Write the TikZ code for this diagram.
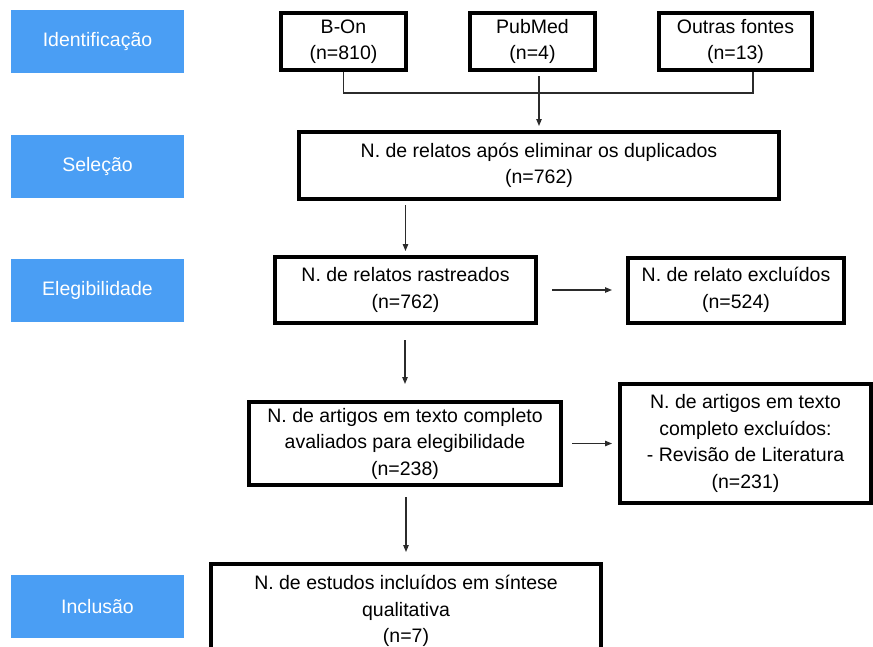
\documentclass[tikz,border=0pt]{standalone}
\usepackage{fontspec}
\setmainfont{Liberation Sans}
\usepackage{tikz}
\usetikzlibrary{positioning, arrows.meta}
\definecolor{stageblue}{HTML}{4A9EF4}
\definecolor{linegray}{HTML}{2B2B2B}

\begin{document}
\begin{tikzpicture}[
    x=1pt, y=-1pt,
    every node/.style={font=\fontsize{19.5}{26.5}\selectfont},
    stage/.style={fill=stageblue, text=white, minimum width=173pt, minimum height=63pt, inner sep=0pt},
    box/.style={draw, line width=4pt, minimum height=57pt, align=center, inner sep=0pt, fill=white},
    arr/.style={-{Triangle[length=7pt, width=5.5pt]}, line width=1.1pt, linegray},
    conn/.style={line width=1.1pt, linegray}
]
\useasboundingbox (0,0) rectangle (873,646);

% Stages
\node[stage] (sid) at (97.5,41.5) {Identificação};
\node[stage] (ssel) at (97.5,166) {Seleção};
\node[stage] (seleg) at (97.5,290) {Elegibilidade};
\node[stage] (sinc) at (97.5,606.5) {Inclusão};

% Sources
\node[box, minimum width=125pt] (bon) at (343.5,41.5) {B-On\\(n=810)};
\node[box, minimum width=125pt, right=60pt of bon] (pub) {PubMed\\(n=4)};
\node[box, minimum width=153pt, right=60pt of pub] (out) {Outras fontes\\(n=13)};

% Flow
\node[box, minimum width=480pt, minimum height=67pt] (dup) at (539,165.5) {N. de relatos após eliminar os duplicados\\(n=762)};
\node[box, minimum width=261pt, minimum height=66pt] (rast) at (405.5,290) {N. de relatos rastreados\\(n=762)};
\node[box, minimum width=216pt, minimum height=65pt, right=88pt of rast] (exc1) {N. de relato excluídos\\(n=524)};
\node[box, minimum width=312pt, minimum height=83pt] (art) at (405,443.5) {N. de artigos em texto completo\\avaliados para elegibilidade\\(n=238)};
\node[box, minimum width=251pt, minimum height=119pt, right=55pt of art] (exc2) {N. de artigos em texto\\completo excluídos:\\- Revisão de Literatura\\(n=231)};
\node[box, minimum width=390pt, minimum height=94pt] (incl) at (406,611) {N. de estudos incluídos em síntese\\qualitativa\\(n=7)};

% Connectors
\coordinate (join) at (539,93);
\draw[conn] (bon.south) |- (join) -| ([xshift=17.5pt]out.south);
\draw[arr, shorten <=4pt, shorten >=4pt] (dup.north |- pub.south) -- (dup.north);
\draw[arr, shorten <=4pt, shorten >=4pt] (rast.north |- dup.south) -- (rast.north);
\draw[arr, shorten <=14pt, shorten >=14pt] (rast) -- (exc1);
\draw[arr, shorten <=15pt, shorten >=16pt] (art.north |- rast.south) -- (art.north);
\draw[arr, shorten <=9pt, shorten >=6pt] (art) -- (exc2);
\draw[arr, shorten <=10pt, shorten >=10pt] (incl.north |- art.south) -- (incl.north);

\end{tikzpicture}
\end{document}
